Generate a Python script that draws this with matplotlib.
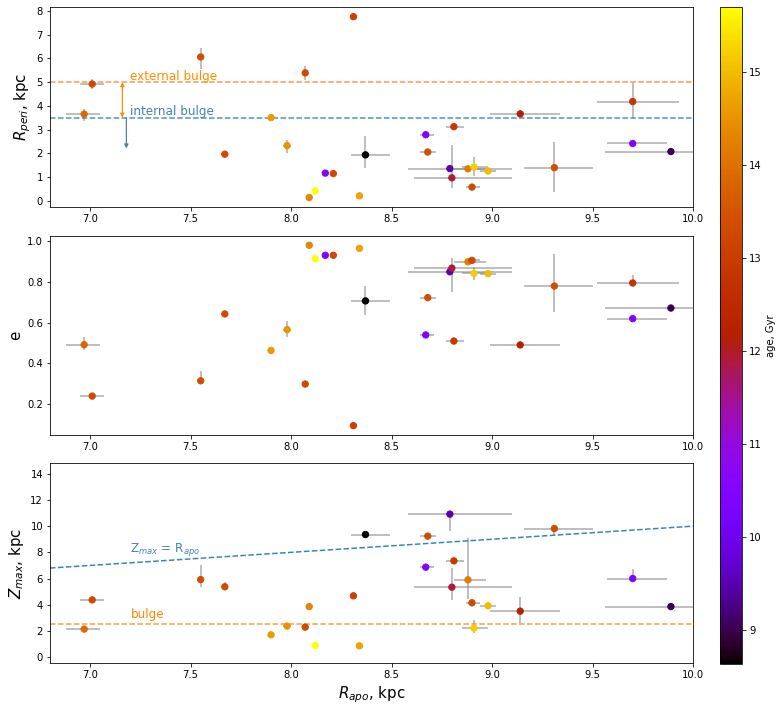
import matplotlib
matplotlib.use("Agg")
import matplotlib.pyplot as plt
import numpy as np

# ---- data (one entry per star, sorted by R_apo) ----
rapo    = [6.97, 7.01, 7.55, 7.67, 7.90, 7.98, 8.07, 8.09, 8.12, 8.17, 8.21, 8.31, 8.34, 8.37,
           8.67, 8.68, 8.79, 8.80, 8.81, 8.88, 8.90, 8.91, 8.98, 9.14, 9.31, 9.70, 9.70, 9.89]
rapo_lo = [0.09, 0.06, 0.0, 0.0, 0.0, 0.02, 0.0, 0.0, 0.0, 0.0, 0.0, 0.0, 0.0, 0.07,
           0.03, 0.04, 0.21, 0.19, 0.04, 0.07, 0.03, 0.06, 0.04, 0.15, 0.15, 0.13, 0.18, 0.33]
rapo_hi = [0.08, 0.06, 0.0, 0.0, 0.0, 0.02, 0.0, 0.0, 0.0, 0.0, 0.0, 0.0, 0.0, 0.12,
           0.04, 0.04, 0.31, 0.30, 0.05, 0.09, 0.04, 0.07, 0.04, 0.20, 0.19, 0.17, 0.23, 0.35]

rperi    = [3.65, 4.92, 6.06, 1.96, 3.50, 2.32, 5.39, 0.13, 0.41, 1.16, 1.14, 7.76, 0.20, 1.93,
            2.78, 2.05, 1.35, 0.96, 3.12, 1.34, 0.57, 1.41, 1.25, 3.66, 1.39, 2.41, 4.18, 2.07]
rperi_lo = [0.31, 0.21, 0.52, 0.05, 0.0, 0.30, 0.30, 0.0, 0.0, 0.0, 0.0, 0.0, 0.0, 0.56,
            0.0, 0.0, 0.0, 0.44, 0.0, 0.0, 0.0, 0.37, 0.0, 0.0, 1.01, 0.0, 0.70, 0.0]
rperi_hi = [0.22, 0.21, 0.37, 0.05, 0.0, 0.24, 0.30, 0.0, 0.0, 0.0, 0.0, 0.0, 0.0, 0.80,
            0.0, 0.0, 0.0, 1.39, 0.0, 0.0, 0.0, 0.45, 0.0, 0.0, 1.07, 0.0, 0.80, 0.0]

ecc    = [0.491, 0.239, 0.314, 0.642, 0.463, 0.565, 0.298, 0.979, 0.913, 0.930, 0.930, 0.094, 0.964, 0.706,
          0.539, 0.722, 0.849, 0.867, 0.509, 0.898, 0.905, 0.841, 0.840, 0.490, 0.779, 0.619, 0.794, 0.671]
ecc_lo = [0.026, 0.0, 0.01, 0.01, 0.0, 0.034, 0.0, 0.0, 0.0, 0.0, 0.0, 0.0, 0.0, 0.069,
          0.0, 0.0, 0.0, 0.116, 0.0, 0.0, 0.0, 0.03, 0.0, 0.0, 0.126, 0.0, 0.0, 0.0]
ecc_hi = [0.036, 0.0, 0.05, 0.01, 0.0, 0.043, 0.0, 0.0, 0.0, 0.0, 0.0, 0.0, 0.0, 0.074,
          0.0, 0.0, 0.0, 0.052, 0.0, 0.0, 0.0, 0.03, 0.0, 0.0, 0.155, 0.0, 0.04, 0.0]

zmax    = [2.14, 4.37, 5.92, 5.37, 1.70, 2.37, 2.29, 3.86, 0.89, 17.5, 18.5, 4.68, 0.86, 9.36,
           6.87, 9.24, 10.92, 5.34, 7.35, 5.90, 4.15, 2.21, 3.92, 3.51, 9.82, 6.00, 16.0, 3.86]
zmax_lo = [0.0, 0.0, 0.53, 0.0, 0.0, 0.0, 0.0, 0.0, 0.0, 0.0, 0.0, 0.0, 0.0, 0.0,
           0.0, 0.0, 1.32, 0.97, 0.0, 1.45, 0.0, 0.38, 0.0, 0.92, 0.50, 0.0, 0.0, 0.0]
zmax_hi = [0.0, 0.0, 1.12, 0.40, 0.0, 0.0, 0.0, 0.0, 0.0, 0.0, 0.0, 0.0, 0.0, 0.0,
           0.0, 0.0, 0.0, 1.45, 0.0, 3.18, 0.0, 0.64, 0.0, 1.07, 0.0, 0.71, 0.0, 0.0]

age = [13.9, 13.3, 13.4, 13.3, 14.6, 14.5, 13.3, 14.3, 15.7, 10.4, 13.3, 13.1, 14.7, 8.64,
       10.4, 13.4, 9.5, 11.9, 12.9, 14.2, 13.3, 15.2, 15.0, 12.2, 13.4, 10.4, 12.8, 9.0]

x_ticks = [7.0, 7.5, 8.0, 8.5, 9.0, 9.5, 10.0]

# ---- figure ----
DPI = 72
fig = plt.figure(figsize=(782 / DPI, 712 / DPI), dpi=DPI)
W, H = 782.0, 712.0
def axpos(l, t, r, b):
    return [l / W, (H - b) / H, (r - l) / W, (b - t) / H]

ax1 = fig.add_axes(axpos(50, 7, 693, 207))
ax2 = fig.add_axes(axpos(50, 235.7, 693, 435))
ax3 = fig.add_axes(axpos(50, 463.3, 693, 663))
cax = fig.add_axes(axpos(720, 7, 742, 664))

xerr = [rapo_lo, rapo_hi]
cmap = 'gnuplot'
vmin, vmax = min(age), max(age)

def panel(ax, y, ylo, yhi):
    ax.errorbar(rapo, y, xerr=xerr, yerr=[ylo, yhi], fmt='none', ecolor='gray',
                alpha=0.5, elinewidth=2, capsize=0, zorder=1)
    sc = ax.scatter(rapo, y, c=age, cmap=cmap, vmin=vmin, vmax=vmax, s=40, zorder=3)
    ax.set_xlim(6.8, 10.0)
    ax.set_xticks(x_ticks)
    return sc

# top panel
sc = panel(ax1, rperi, rperi_lo, rperi_hi)
ax1.axhline(5.0, color='tab:orange', ls='--', lw=1.5, alpha=0.8, zorder=2)
ax1.axhline(3.5, color='tab:blue', ls='--', lw=1.5, alpha=0.8, zorder=2)
ax1.annotate('', xy=(7.16, 5.0), xytext=(7.16, 3.5),
             arrowprops=dict(arrowstyle='<|-|>', color='darkorange', lw=1.2,
                             mutation_scale=8, shrinkA=0, shrinkB=0))
ax1.annotate('', xy=(7.18, 2.2), xytext=(7.18, 3.5),
             arrowprops=dict(arrowstyle='-|>', color='steelblue', lw=1.2,
                             mutation_scale=8, shrinkA=0, shrinkB=0))
ax1.text(7.2, 5.1, 'external bulge', color='darkorange', fontsize=12)
ax1.text(7.2, 3.6, 'internal bulge', color='steelblue', fontsize=12)
ax1.set_ylim(-0.27, 8.17)
ax1.set_yticks(range(0, 9))
ax1.set_ylabel('$R_{peri}$, kpc', fontsize=15)

# middle panel
panel(ax2, ecc, ecc_lo, ecc_hi)
ax2.set_ylim(0.048, 1.026)
ax2.set_yticks([0.2, 0.4, 0.6, 0.8, 1.0])
ax2.set_ylabel('e', fontsize=15)

# bottom panel
panel(ax3, zmax, zmax_lo, zmax_hi)
ax3.axline((7.0, 7.0), slope=1, color='tab:blue', ls='--', lw=1.5, alpha=0.9, zorder=2)
ax3.axhline(2.5, color='tab:orange', ls='--', lw=1.5, alpha=0.8, zorder=2)
ax3.text(7.2, 8.05, 'Z$_{max}$ = R$_{apo}$', color='steelblue', fontsize=12)
ax3.text(7.2, 2.95, 'bulge', color='darkorange', fontsize=12)
ax3.set_ylim(-0.45, 14.8)
ax3.set_yticks(range(0, 15, 2))
ax3.set_ylabel('$Z_{max}$, kpc', fontsize=15)
ax3.set_xlabel('$R_{apo}$, kpc', fontsize=15)

cb = fig.colorbar(sc, cax=cax)
cb.set_label('age, Gyr')

fig.savefig('out.png', dpi=DPI)
